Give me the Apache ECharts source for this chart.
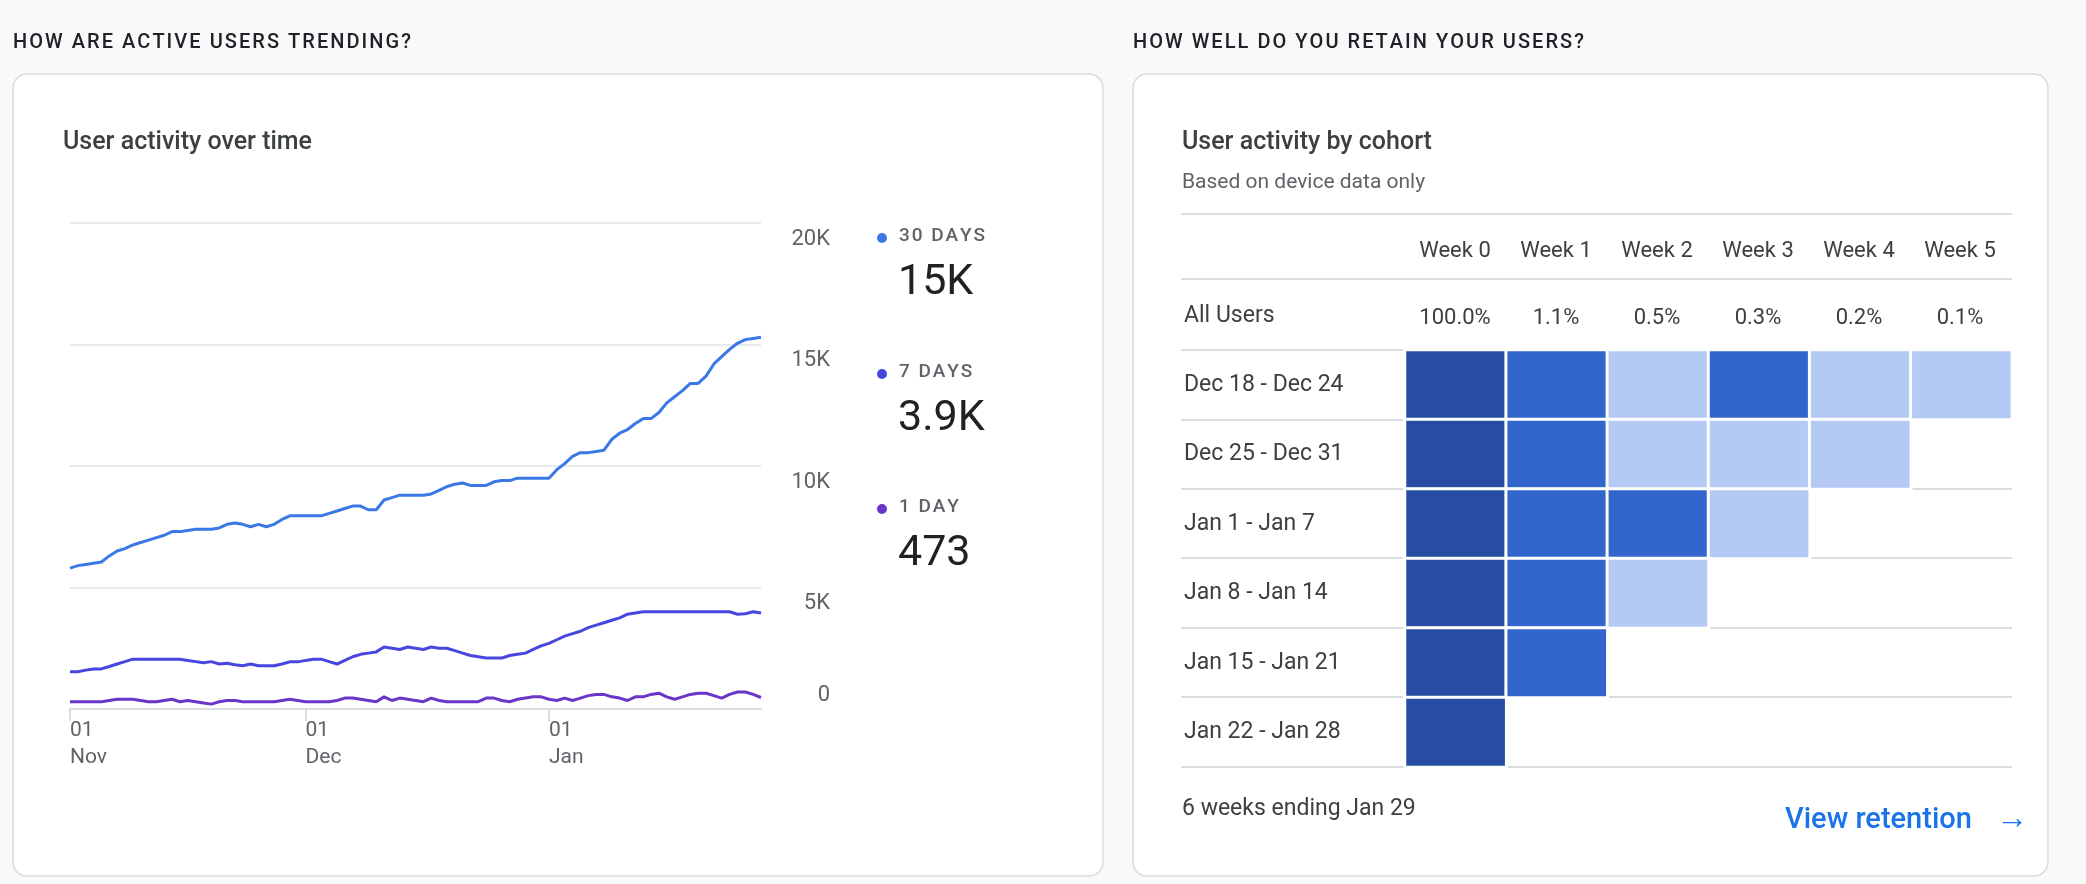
<!DOCTYPE html>
<html><head><meta charset="utf-8">
<script src="https://cdn.jsdelivr.net/npm/echarts@6/dist/echarts.min.js"></script>
<style>html,body{margin:0;background:#f8f9fa}#main{width:2086px;height:884px}</style>
</head><body><div id="main"></div>
<script>
// daily active users, Nov 1 onwards
var users30 = [5800,5900,5950,6000,6050,6300,6500,6600,6750,6850,
  6950,7050,7150,7300,7300,7350,7400,7400,7400,7450,
  7600,7650,7600,7500,7600,7500,7600,7800,7950,7950,
  7950,7950,7950,8050,8150,8250,8350,8350,8200,8200,
  8600,8700,8800,8800,8800,8800,8850,9000,9150,9250,
  9300,9200,9200,9200,9350,9400,9400,9500,9500,9500,
  9500,9500,9850,10100,10400,10550,10550,10600,10650,11100,
  11350,11500,11750,11950,11950,12200,12600,12850,13100,13400,
  13400,13700,14200,14500,14800,15050,15200,15250,15300];
var users7 = [1530,1530,1600,1650,1650,1750,1850,1950,2050,2050,
  2050,2050,2050,2050,2050,2000,1950,1900,1950,1850,
  1880,1820,1780,1850,1780,1780,1780,1850,1940,1940,
  2000,2050,2050,1950,1850,2000,2150,2250,2300,2350,
  2550,2500,2450,2550,2500,2450,2550,2500,2500,2400,
  2300,2200,2150,2100,2100,2100,2200,2250,2300,2450,
  2600,2700,2850,3000,3100,3200,3350,3450,3550,3650,
  3750,3900,3950,4000,4000,4000,4000,4000,4000,4000,
  4000,4000,4000,4000,4000,3900,3920,4000,3950];
var users1 = [300,300,300,300,300,350,400,400,400,350,
  300,300,350,400,300,350,300,250,200,300,
  350,350,300,300,300,300,300,350,400,350,
  300,300,300,300,350,450,450,400,350,300,
  500,350,450,400,350,300,450,350,300,300,
  300,300,300,450,450,350,300,400,450,500,
  500,400,350,450,350,450,550,600,600,500,
  450,350,500,500,600,650,500,400,500,600,
  650,650,550,450,600,700,700,600,473];
var seriesNames = ['30 DAYS', '7 DAYS', '1 DAY'];
var seriesTotals = ['15K', '3.9K', '473'];
var yTicks = [0, 5000, 10000, 15000, 20000];

// cohort table
var weeks = ['Week 0','Week 1','Week 2','Week 3','Week 4','Week 5'];
var allUsers = ['100.0%','1.1%','0.5%','0.3%','0.2%','0.1%'];
var cohorts = ['Dec 18 - Dec 24','Dec 25 - Dec 31','Jan 1 - Jan 7','Jan 8 - Jan 14','Jan 15 - Jan 21','Jan 22 - Jan 28'];
// 3 = dark, 2 = mid, 1 = light
var levels = [
  [3,2,1,2,1,1],
  [3,2,1,1,1],
  [3,2,2,1],
  [3,2,1],
  [3,2],
  [3]
];

var months = ['Nov','Dec','Jan','Feb'];
var monthLen = [30,31,31,28];
var dates = [];
var m = 0, d = 1;
for (var i = 0; i < users30.length; i++) {
  dates.push({m: m, d: d});
  d++;
  if (d > monthLen[m]) { d = 1; m++; }
}
var cats = dates.map(function (o) { return months[o.m] + ' ' + o.d; });
var firstOfMonth = function (idx) { return dates[idx].d === 1; };

var heat = [];
levels.forEach(function (row, r) {
  row.forEach(function (v, c) { heat.push([c, r, v]); });
});

var spaced = function (s) { return s.split('').join('\u200a'); };

var font = 'Roboto';
var graphics = [
  {type:'rect', z:-10, shape:{x:13,y:74,width:1090,height:802,r:14}, style:{fill:'#fff',stroke:'#dadce0',lineWidth:1.5}},
  {type:'rect', z:-10, shape:{x:1133,y:74,width:915,height:802,r:14}, style:{fill:'#fff',stroke:'#dadce0',lineWidth:1.5}},
  {type:'text', x:13, y:33, style:{text:spaced('HOW ARE ACTIVE USERS TRENDING?'), font:'500 20px '+font, fill:'#202124'}},
  {type:'text', x:1133, y:33, style:{text:spaced('HOW WELL DO YOU RETAIN YOUR USERS?'), font:'500 20px '+font, fill:'#202124'}},
  {type:'text', x:63, y:130, style:{text:'User activity over time', font:'500 25px '+font, fill:'#3c4043'}},
  {type:'text', x:1182, y:130, style:{text:'User activity by cohort', font:'500 25px '+font, fill:'#3c4043'}},
  {type:'text', x:1182, y:172, style:{text:'Based on device data only', font:'21px '+font, fill:'#5f6368'}},
  {type:'text', x:1182, y:798, style:{text:'6 weeks ending Jan 29', font:'23px '+font, fill:'#3c4043'}},
  {type:'text', x:1785, y:806, style:{text:'View retention', font:'500 29px '+font, fill:'#1a73e8'}},
  {type:'text', x:1996, y:804, style:{text:'\u2192', font:'bold 32px '+font, fill:'#1a73e8'}}
];
var lineColors = ['#3b78e7','#4846e0','#6a35c9'];
var legendY = [238, 374, 509];
seriesNames.forEach(function (n, k) {
  graphics.push({type:'circle', shape:{cx:882,cy:legendY[k],r:5}, style:{fill:lineColors[k]}});
  graphics.push({type:'text', x:899, y:legendY[k]-11, style:{text:spaced(n), font:'500 19px '+font, fill:'#5f6368'}});
  graphics.push({type:'text', x:898, y:legendY[k]+24, style:{text:seriesTotals[k], font:'43px '+font, fill:'#202124'}});
});
// table separators
[214, 279, 350, 420, 489, 558, 628, 697, 767].forEach(function (y) {
  graphics.push({type:'line', z:-5, shape:{x1:1181,y1:y,x2:2012,y2:y}, style:{stroke:'#dadce0',lineWidth:2}});
});
weeks.forEach(function (w, c) {
  var cx = 1405 + 101 * c + 50;
  graphics.push({type:'text', x:cx, y:251, style:{text:w, font:'22px '+font, fill:'#3c4043', align:'center', verticalAlign:'middle'}});
  graphics.push({type:'text', x:cx, y:318, style:{text:allUsers[c], font:'22px '+font, fill:'#3c4043', align:'center', verticalAlign:'middle'}});
});
graphics.push({type:'text', x:1184, y:316, style:{text:'All Users', font:'23px '+font, fill:'#3c4043', verticalAlign:'middle'}});

var chart = echarts.init(document.getElementById('main'));
chart.setOption({
  animation: false,
  textStyle: {fontFamily: font},
  graphic: graphics,
  grid: [
    {left:70, width:691, top:223, height:486},
    {left:1405, width:607, top:350, height:417}
  ],
  xAxis: [
    {type:'category', gridIndex:0, data:cats, boundaryGap:false,
     axisLine:{lineStyle:{color:'#dadce0',width:2}},
     axisTick:{interval:function(i){return firstOfMonth(i);}, length:12, lineStyle:{color:'#dadce0',width:2}},
     axisLabel:{interval:function(i){return firstOfMonth(i);}, align:'left', fontSize:21, color:'#5f6368', lineHeight:27, margin:8,
       formatter:function(v, i){ return '01\n' + months[dates[i].m]; }}},
    {type:'category', gridIndex:1, data:weeks, show:false}
  ],
  yAxis: [
    {type:'value', gridIndex:0, position:'right', min:0, max:20000, interval:5000,
     axisLine:{show:false}, axisTick:{show:false},
     splitLine:{lineStyle:{color:'#e8eaed',width:2}},
     axisLabel:{align:'right', margin:69, fontSize:22, color:'#5f6368',
       rich:{k:{fontSize:22, color:'#5f6368', padding:[32,0,0,0]}, z:{fontSize:22, color:'#5f6368', padding:[0,0,28,0]}},
       formatter:function(v){
         if (yTicks.indexOf(v) < 0) return '';
         return v === 0 ? '{z|0}' : '{k|' + v/1000 + 'K}';
       }}},
    {type:'category', gridIndex:1, data:cohorts, inverse:true,
     axisLine:{show:false}, axisTick:{show:false},
     axisLabel:{align:'left', margin:221, fontSize:23, color:'#3c4043'}}
  ],
  visualMap: {show:false, type:'piecewise', seriesIndex:3, dimension:2,
    pieces:[{value:1,color:'#b4c9f4'},{value:2,color:'#3366cc'},{value:3,color:'#264ca3'}]},
  series: [
    {type:'line', name:seriesNames[0], data:users30, showSymbol:false, lineStyle:{width:3,color:lineColors[0]}, itemStyle:{color:lineColors[0]}},
    {type:'line', name:seriesNames[1], data:users7, showSymbol:false, lineStyle:{width:3,color:lineColors[1]}, itemStyle:{color:lineColors[1]}},
    {type:'line', name:seriesNames[2], data:users1, showSymbol:false, lineStyle:{width:3,color:lineColors[2]}, itemStyle:{color:lineColors[2]}},
    {type:'heatmap', xAxisIndex:1, yAxisIndex:1, data:heat, itemStyle:{borderColor:'#fff', borderWidth:3}}
  ]
});
</script>
</body></html>
